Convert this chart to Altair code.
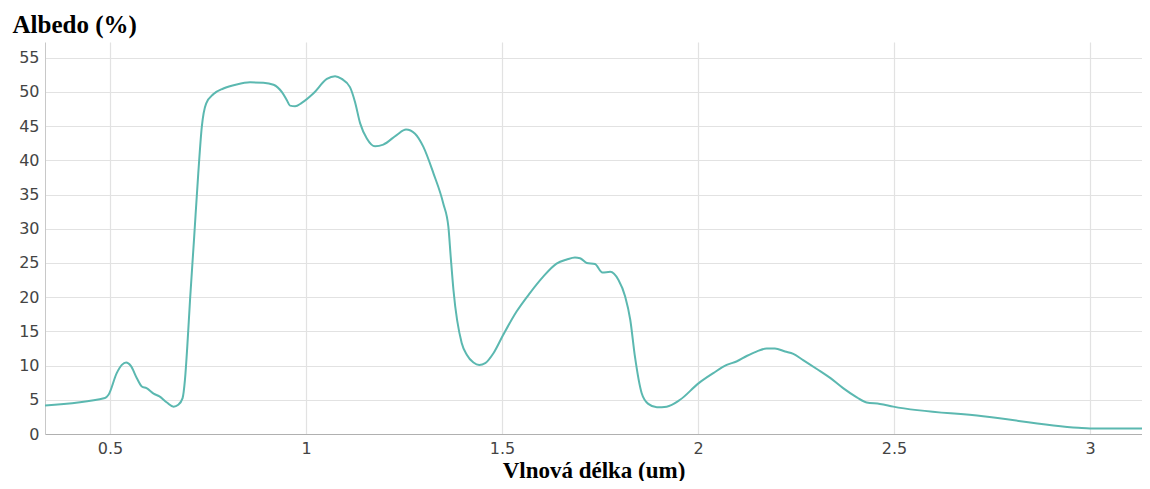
import altair as alt
import pandas as pd

wavelength = [0.334, 0.487, 0.496, 0.517, 0.530, 0.541, 0.553, 0.568, 0.581, 0.593,
              0.611, 0.626, 0.645, 0.662, 0.674, 0.685, 0.691, 0.697, 0.704, 0.714,
              0.725, 0.734, 0.745, 0.764, 0.789, 0.823, 0.857, 0.891, 0.917, 0.938,
              0.951, 0.959, 0.972, 0.989, 1.019, 1.053, 1.074, 1.091, 1.112, 1.125,
              1.138, 1.155, 1.176, 1.197, 1.231, 1.255, 1.278, 1.299, 1.325, 1.350,
              1.363, 1.369, 1.376, 1.397, 1.410, 1.427, 1.442, 1.457, 1.478, 1.503,
              1.537, 1.571, 1.605, 1.639, 1.665, 1.686, 1.699, 1.716, 1.737, 1.756,
              1.776, 1.797, 1.814, 1.827, 1.839, 1.856, 1.873, 1.895, 1.920, 1.954,
              2.001, 2.039, 2.073, 2.098, 2.124, 2.149, 2.175, 2.196, 2.222, 2.243,
              2.268, 2.303, 2.337, 2.370, 2.405, 2.430, 2.464, 2.498, 2.727, 2.970,
              3.000, 3.153]
albedo = [4.17, 5.25, 5.73, 8.9, 10.1, 10.45, 9.96, 8.2, 6.95, 6.7,
          5.9, 5.5, 4.6, 4.0, 4.27, 5.25, 7.9, 12.8, 19.6, 28.3,
          38.1, 44.9, 48.3, 49.7, 50.5, 51.1, 51.4, 51.35, 51.05, 50.0,
          48.8, 48.0, 47.9, 48.4, 49.8, 51.9, 52.3, 51.9, 50.7, 48.5,
          45.4, 43.2, 42.05, 42.3, 43.7, 44.5, 43.9, 42.0, 38.1, 33.7,
          30.3, 25.9, 21.05, 13.3, 11.6, 10.45, 10.1, 10.35, 11.8, 14.5,
          17.9, 20.6, 23.0, 24.9, 25.5, 25.8, 25.7, 25.0, 24.85, 23.6,
          23.7, 22.5, 20.1, 16.7, 11.3, 6.0, 4.4, 3.9, 4.0, 5.0,
          7.4, 8.9, 10.1, 10.6, 11.4, 12.05, 12.5, 12.5, 12.05, 11.7,
          10.8, 9.5, 8.2, 6.7, 5.35, 4.6, 4.4, 4.0, 2.6, 0.9,
          0.8, 0.8]

x_ticks = [0.5, 1, 1.5, 2, 2.5, 3]
y_ticks = [0, 5, 10, 15, 20, 25, 30, 35, 40, 45, 50, 55]

df = pd.DataFrame({"wl": wavelength, "alb": albedo})

chart = (
    alt.Chart(df)
    .mark_line(color="#5bb8b0", strokeWidth=2, interpolate="monotone", clip=True)
    .encode(
        x=alt.X(
            "wl:Q",
            scale=alt.Scale(domain=[0.334, 3.1325], nice=False, zero=False),
            axis=alt.Axis(
                values=x_ticks,
                format="~g",
                title="Vlnová délka (um)",
                titleFont="Liberation Serif",
                titleFontSize=23,
                titleFontWeight="bold",
                titleColor="#000",
                titleY=43,
                titleBaseline="alphabetic",
                labelFont="DejaVu Sans",
                labelFontSize=16,
                labelColor="#444",
                labelPadding=6,
                ticks=False,
                domainColor="#b0b0b0",
                gridColor="#e2e2e2",
                gridWidth=1.2,
            ),
        ),
        y=alt.Y(
            "alb:Q",
            scale=alt.Scale(domain=[0, 57.3], nice=False),
            axis=alt.Axis(
                values=y_ticks,
                title="Albedo (%)",
                titleAngle=0,
                titleAlign="left",
                titleBaseline="alphabetic",
                titleX=-33,
                titleY=-10,
                titleFont="Liberation Serif",
                titleFontSize=25,
                titleFontWeight="bold",
                titleColor="#000",
                labelFont="DejaVu Sans",
                labelFontSize=16,
                labelColor="#444",
                labelPadding=6,
                ticks=False,
                domainColor="#c8c8c8",
                gridColor="#e2e2e2",
                gridWidth=1.2,
            ),
        ),
    )
    .properties(
        width=1097,
        height=392,
        autosize=alt.AutoSizeParams(type="none"),
        padding={"left": 37, "top": 34, "right": 0, "bottom": 47},
    )
    .configure_view(stroke=None)
)

chart.save("out.html", embed_options={"renderer": "svg", "actions": False})
